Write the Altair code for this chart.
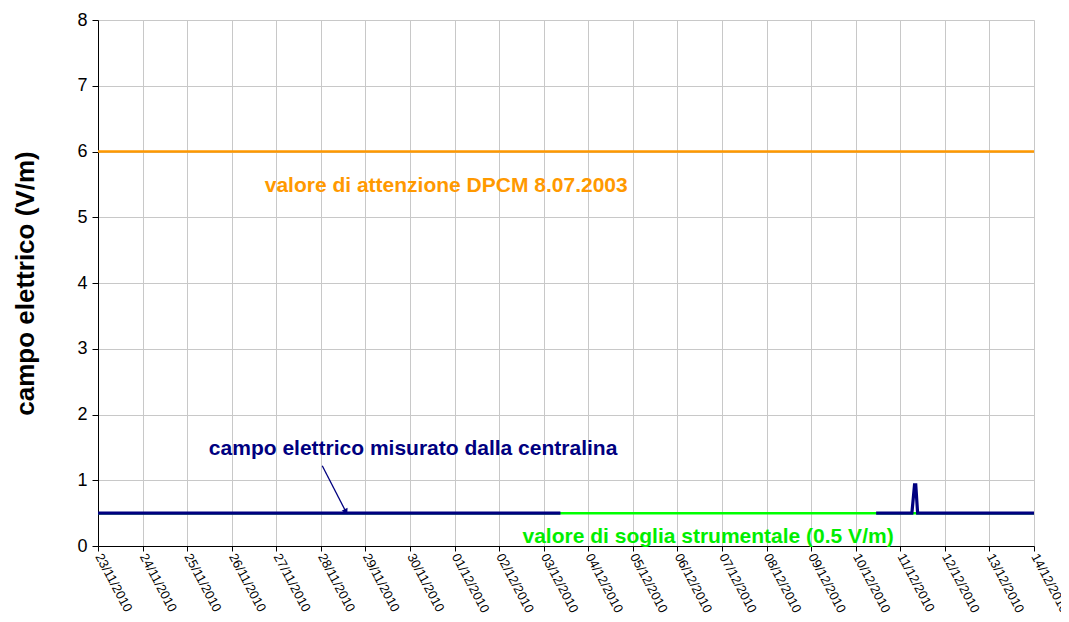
import altair as alt
import pandas as pd

# measured field (navy), two segments with a gap where values are below threshold
navy_t = ["2010-11-23T00:00:00", "2010-12-03T09:00:00",
          "2010-12-10T11:00:00", "2010-12-11T06:15:00", "2010-12-11T07:40:00",
          "2010-12-11T08:20:00", "2010-12-11T09:20:00", "2010-12-14T00:00:00"]
navy_v = [0.5, 0.5, 0.5, 0.5, 0.93, 0.93, 0.5, 0.5]
navy_seg = [1, 1, 2, 2, 2, 2, 2, 2]

attention_value = 6.0
threshold_value = 0.5

day_numbers = [(2010, 11, d) for d in range(23, 31)] + [(2010, 12, d) for d in range(1, 15)]

label_texts = ["valore di attenzione DPCM 8.07.2003",
               "campo elettrico misurato dalla centralina",
               "valore di soglia strumentale (0.5 V/m)"]
label_t = ["2010-11-30T19:30:00", "2010-11-30T01:40:00", "2010-12-06T16:30:00"]
label_v = [5.475, 1.475, 0.137]
label_colors = ["#FF9900", "#000080", "#00EE00"]

arrow_t = ["2010-11-28T00:45:00", "2010-11-28T13:30:00"]
arrow_v = [1.22, 0.52]

FONT = "Liberation Sans"

navy_df = pd.DataFrame({"t": navy_t, "v": navy_v, "seg": navy_seg})
arrow_df = pd.DataFrame({"t": arrow_t, "v": arrow_v})

x_domain = [alt.DateTime(year=2010, month=11, date=23), alt.DateTime(year=2010, month=12, date=14)]
x_vals = [alt.DateTime(year=y, month=m, date=d) for (y, m, d) in day_numbers]

xscale = alt.Scale(domain=x_domain, nice=False)
yscale = alt.Scale(domain=[0, 8], nice=False, zero=True)

xaxis = alt.Axis(values=x_vals, format="%d/%m/%Y", labelAngle=62, labelAlign="left",
                 labelBaseline="middle", labelFlush=False, labelOverlap=False, labelBound=False,
                 labelFontSize=13, labelFont=FONT, labelColor="#000000", title=None,
                 grid=True, gridColor="#c8c8c8", domainColor="#000000", tickColor="#000000",
                 tickSize=5, labelPadding=3)
yaxis = alt.Axis(values=list(range(0, 9)), format="d", labelFontSize=18, labelFont=FONT,
                 labelColor="#000000",
                 title="campo elettrico (V/m)", titleFont=FONT, titleFontSize=26, titleFontWeight="bold",
                 titleColor="#000000", titleX=-60, grid=True, gridColor="#c8c8c8",
                 domainColor="#000000", tickColor="#000000", tickSize=6, labelPadding=5)

base_x = alt.X("t:T", scale=xscale, axis=xaxis)
base_y = alt.Y("v:Q", scale=yscale, axis=yaxis)

navy_line = alt.Chart(navy_df).mark_line(color="#000080", strokeWidth=3.2).encode(
    x=base_x, y=base_y, detail="seg:N")

green_rule = alt.Chart(pd.DataFrame({"v": [threshold_value]})).mark_rule(
    color="#00FF00", strokeWidth=2.5).encode(y=alt.Y("v:Q", scale=yscale))
orange_rule = alt.Chart(pd.DataFrame({"v": [attention_value]})).mark_rule(
    color="#FF9900", strokeWidth=2.5).encode(y=alt.Y("v:Q", scale=yscale))

texts = []
for txt, t, v, c in zip(label_texts, label_t, label_v, label_colors):
    df = pd.DataFrame({"t": [t], "v": [v], "txt": [txt]})
    texts.append(alt.Chart(df).mark_text(font=FONT, fontSize=21, fontWeight="bold", color=c,
                                         align="center", baseline="middle").encode(
        x=alt.X("t:T", scale=xscale), y=alt.Y("v:Q", scale=yscale), text="txt:N"))

arrow_line = alt.Chart(arrow_df).mark_line(color="#000080", strokeWidth=1.3).encode(
    x=alt.X("t:T", scale=xscale), y=alt.Y("v:Q", scale=yscale))
arrow_head = alt.Chart(arrow_df.iloc[[1]]).mark_point(
    shape="triangle-up", angle=152, size=45, filled=True, color="#000080", opacity=1).encode(
    x=alt.X("t:T", scale=xscale), y=alt.Y("v:Q", scale=yscale))

chart = alt.layer(green_rule, orange_rule, navy_line, arrow_line, arrow_head, *texts).properties(
    width=936, height=526,
    autosize=alt.AutoSizeParams(type="none"),
    padding={"left": 90, "top": 12, "right": 27, "bottom": 68},
).configure_view(stroke=None).configure(background="white")

chart.save("out.html", embed_options={"renderer": "svg", "actions": False})
